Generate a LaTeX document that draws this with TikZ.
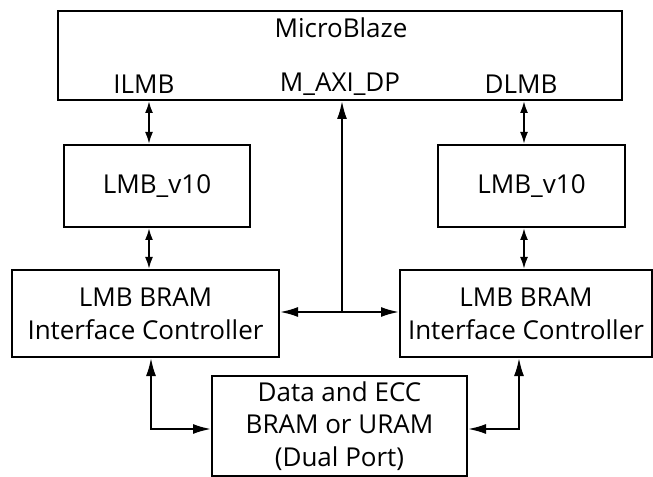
\documentclass[tikz,border=0pt]{standalone}
\usepackage{fontspec}
\setmainfont{Open Sans}
\usetikzlibrary{arrows.meta}

\tikzset{
  blk/.style={draw, line width=1.5pt, align=center, inner sep=0pt},
  lbl/.style={inner sep=0pt},
  big/.style={line width=1.5pt, {Latex[length=13.5pt,width=7.5pt]}-{Latex[length=13.5pt,width=7.5pt]}},
  sml/.style={line width=1.5pt, {Latex[length=9pt,width=6pt]}-{Latex[length=9pt,width=6pt]}},
}

\begin{document}
\begin{tikzpicture}[x=0.75pt,y=-0.75pt,font=\fontsize{19.5}{24.5}\selectfont]
  \useasboundingbox (0,0) rectangle (653,477);
  \node[blk, minimum width=423pt, minimum height=66.75pt] (mb) at (340,55.5) {};
  \node[lbl] (mbname) at (341,28) {MicroBlaze};
  \node[lbl] (ilmb) at (144,84) {ILMB};
  \node[lbl] (maxi) at (340,84) {M\_AXI\_DP};
  \node[lbl] (dlmb) at (521,84) {DLMB};
  \node[blk, minimum width=139.5pt, minimum height=61.5pt] (lmbl) at (157,186) {LMB\_v10};
  \node[blk, minimum width=140.25pt, minimum height=61.5pt] (lmbr) at (531.5,186) {LMB\_v10};
  \node[blk, minimum width=200.25pt, minimum height=65.25pt] (ctrll) at (145.5,313.5) {LMB BRAM\\Interface Controller};
  \node[blk, minimum width=189pt, minimum height=65.25pt] (ctrlr) at (526,313.5) {LMB BRAM\\Interface Controller};
  \node[blk, minimum width=191.25pt, minimum height=75pt] (bram) at (339.5,426) {Data and ECC\\BRAM or URAM\\(Dual Port)};
  \coordinate (il) at (149,0);
  \coordinate (dl) at (524,0);
  \coordinate (join) at (342,312);
  \coordinate (bl) at (151,429);
  \coordinate (br) at (519,429);
  \draw[sml] (mb.south -| il) -- (lmbl.north -| il);
  \draw[sml] (mb.south -| dl) -- (lmbr.north -| dl);
  \draw[sml] (lmbl.south -| il) -- (ctrll.north -| il);
  \draw[sml] (lmbr.south -| dl) -- (ctrlr.north -| dl);
  \draw[big] (ctrll.east |- join) -- (ctrlr.west |- join);
  \draw[line width=1.5pt, -{Latex[length=13.5pt,width=7.5pt]}] (join) -- (mb.south -| join);
  \draw[big] (ctrll.south -| bl) |- (bram.west |- bl);
  \draw[big] (ctrlr.south -| br) |- (bram.east |- br);
\end{tikzpicture}
\end{document}
